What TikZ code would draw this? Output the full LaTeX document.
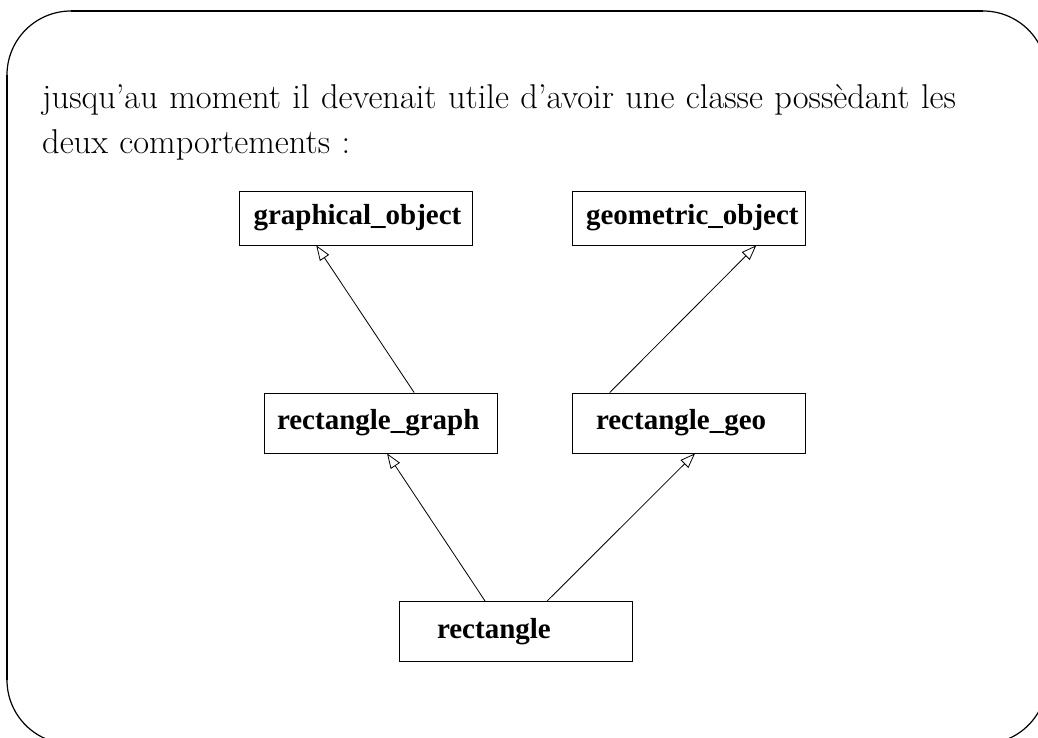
\documentclass[tikz,border=0pt]{standalone}
\usepackage{fontspec}
\newfontfamily\umlfont{Liberation Serif}
\usetikzlibrary{arrows.meta,calc}

\tikzset{
  classe/.style={draw, line width=0.8pt, font=\umlfont\bfseries\fontsize{29}{32}\selectfont,
    text width=233pt, minimum height=60pt, inner sep=0pt, align=left},
  herite/.style={-{Triangle[open,length=15pt,width=11pt]}, line width=0.8pt},
}

\begin{document}
\begin{tikzpicture}[x=1pt,y=-1pt]
\useasboundingbox (0,0) rectangle (1038,738);
\clip (0,0) rectangle (1038,738);

% cadre
\draw[line width=1.2pt, rounded corners=64pt] (7,11) rectangle (1047,744);
\draw[line width=2.6pt] (71,11) -- (983,11);
\draw[line width=2.6pt] (7,75) -- (7,680);

% texte
\node[anchor=north west, text width=990pt, align=left, inner sep=0pt,
  font=\fontsize{34.4}{45}\selectfont] (intro) at (42,84)
  {jusqu'au moment il devenait utile d'avoir une classe possèdant les\\deux comportements :};

% classes en haut
\node[classe, minimum height=54pt] (graphobj) at (356,218) {\hspace*{14pt}graphical\_object};
\node[classe, minimum height=54pt] (geoobj) at (688.5,218) {\hspace*{14pt}geometric\_object};

% classes au milieu
\node[classe] (rectgraph) at (380.5,423) {\hspace*{13pt}rectangle\_graph};
\node[classe] (rectgeo) at (688.5,423) {\hspace*{24pt}rectangle\_geo};

% classe en bas
\node[classe] (rect) at (515.5,631.5) {\hspace*{38pt}rectangle};

% heritage
\draw[herite] ($(rectgraph.north west)!0.644!(rectgraph.north east)$) -- ($(graphobj.south west)!0.33!(graphobj.south east)$);
\draw[herite] ($(rectgeo.north west)!0.163!(rectgeo.north east)$) -- ($(geoobj.south west)!0.79!(geoobj.south east)$);
\draw[herite] ($(rect.north west)!0.37!(rect.north east)$) -- ($(rectgraph.south west)!0.528!(rectgraph.south east)$);
\draw[herite] ($(rect.north west)!0.635!(rect.north east)$) -- ($(rectgeo.south west)!0.528!(rectgeo.south east)$);

\end{tikzpicture}
\end{document}
